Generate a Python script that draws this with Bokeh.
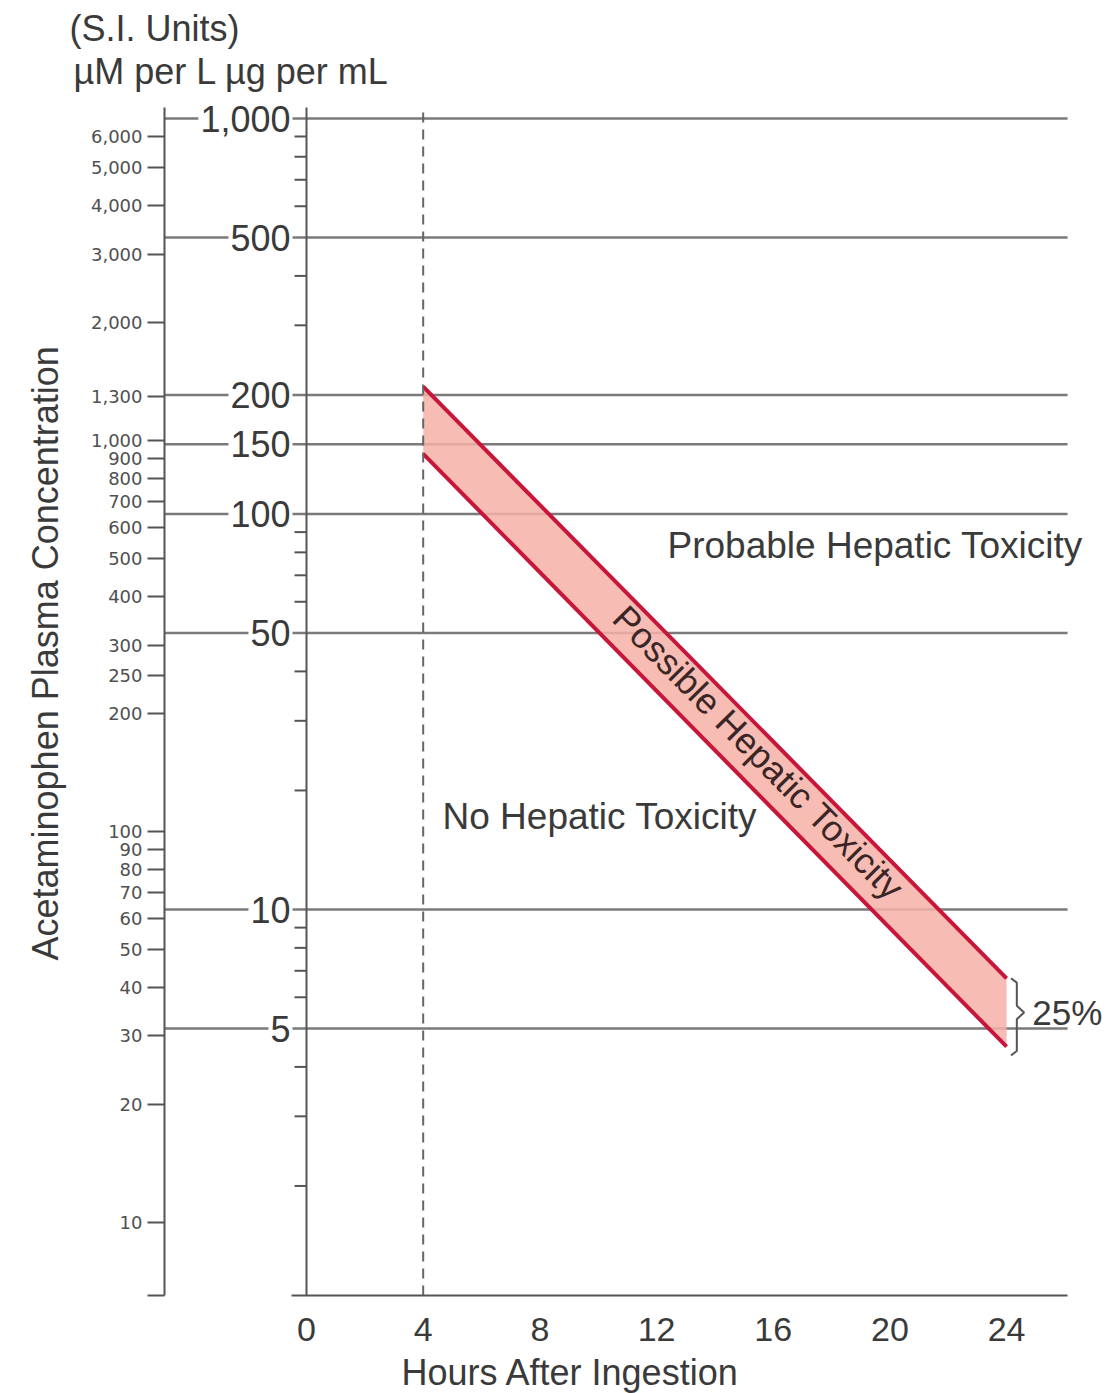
import numpy as np
from bokeh.plotting import figure
from bokeh.models import (Range1d, LogScale, LogAxis, FixedTicker,
                          NumeralTickFormatter, ColumnDataSource, LabelSet, Label, Title)
from bokeh.core.properties import value
from bokeh.embed import file_html
from bokeh.resources import INLINE

# ---------------- data ----------------
hour_ticks = [0, 4, 8, 12, 16, 20, 24]
ug_major = [1000, 500, 200, 150, 100, 50, 10, 5]
ug_major_labels = ["1,000", "500", "200", "150", "100", "50", "10", "5"]
ug_minor = [900, 800, 700, 600, 400, 300, 90, 80, 70, 60, 40, 30, 20,
            9, 8, 7, 6, 4, 3, 2]
si_ticks = [6000, 5000, 4000, 3000, 2000, 1300, 1000, 900, 800, 700, 600,
            500, 400, 300, 250, 200, 100, 90, 80, 70, 60, 50, 40, 30, 20, 10]
band_hours = [4, 24]
band_upper = [210, 6.7]
band_lower = [142, 4.5]
threshold_hour = 4

# ---------------- layout constants ----------------
X_RANGE = (-4.868, 27.39)
LINE_END = 26.09
Y_RANGE = (1.057, 1143.4)
AXIS_TOP = 1066.0
SI_RANGE = (6.5, 7638.0)
SI_BOUNDS = (6.5, 7117.0)
TXT = "#3a3a3a"
GRAY = "#7a7a7a"
AX = "#555555"
FONT = "Liberation Sans"

p = figure(frame_width=941, frame_height=1200, output_backend="svg",
           toolbar_location=None, title_location=None,
           y_axis_type="log", y_axis_location=None,
           x_range=Range1d(*X_RANGE), y_range=Range1d(*Y_RANGE),
           min_border_left=163, min_border_right=0, min_border_top=95,
           min_border_bottom=90, outline_line_color=None,
           background_fill_color="white", border_fill_color="white")
p.grid.visible = False

# x axis
xa = p.xaxis[0]
xa.ticker = FixedTicker(ticks=hour_ticks)
xa.bounds = (-0.5, LINE_END)
xa.major_tick_in = 0
xa.major_tick_out = 0
xa.minor_tick_in = 0
xa.minor_tick_out = 0
xa.axis_line_color = AX
xa.axis_line_width = 2
xa.major_label_text_font = FONT
xa.major_label_text_font_size = "34px"
xa.major_label_text_color = TXT
xa.major_label_standoff = 22

# SI axis (left)
p.extra_y_ranges = {"si": Range1d(*SI_RANGE)}
p.extra_y_scales = {"si": LogScale()}
si_axis = LogAxis(y_range_name="si", bounds=SI_BOUNDS,
                  ticker=FixedTicker(ticks=si_ticks + [SI_RANGE[0]], minor_ticks=[]),
                  formatter=NumeralTickFormatter(format="0,0"),
                  major_label_overrides={SI_RANGE[0]: ""},
                  major_tick_out=17, major_tick_in=0,
                  minor_tick_out=0, minor_tick_in=0,
                  major_label_standoff=5,
                  axis_line_color=AX, axis_line_width=2,
                  major_tick_line_color=AX, major_tick_line_width=2,
                  major_label_text_font="DejaVu Sans",
                  major_label_text_font_size="18px",
                  major_label_text_color="#505050")
p.add_layout(si_axis, "left")


def title(text, side, align, offset, standoff):
    p.add_layout(Title(text=text, align=align, offset=offset, standoff=standoff,
                       text_font=FONT, text_font_size="36px",
                       text_font_style="normal", text_color=TXT), side)


# axis titles and unit headers
title("Acetaminophen Plasma Concentration", "left", "left", 335, 44)
title("Hours After Ingestion", "below", "left", 237, 12)
title("\u00b5M per L \u00b5g per mL", "above", "left", -91, 8)
title("(S.I. Units)", "above", "left", -95, -8)

# horizontal lines at labelled values
n = len(ug_major)
p.segment(x0=[X_RANGE[0]] * n, x1=[LINE_END] * n, y0=ug_major, y1=ug_major,
          line_color=GRAY, line_width=2.5)

# band
p.varea(x=band_hours, y1=band_lower, y2=band_upper, fill_color="#f6b0a6", fill_alpha=0.85)
p.line(band_hours, band_upper, line_color="#c8163a", line_width=4)
p.line(band_hours, band_lower, line_color="#c8163a", line_width=4)

# µg axis at hour 0 and 4-hour dashed line
p.segment(x0=[0], x1=[0], y0=[Y_RANGE[0]], y1=[AXIS_TOP], line_color=AX, line_width=2)
p.segment(x0=[threshold_hour], x1=[threshold_hour], y0=[Y_RANGE[0]], y1=[AXIS_TOP],
          line_color="#666666", line_width=2, line_dash="10 7")
p.ray(x=[0] * len(ug_minor), y=ug_minor, length=12, angle=np.pi,
      length_units="screen", line_color=AX, line_width=2)

src = ColumnDataSource(dict(x=[0] * n, y=ug_major, t=ug_major_labels))
p.add_layout(LabelSet(source=src, x="x", y="y", text="t", x_offset=-16,
                      text_align="right", text_baseline="middle",
                      text_font=value(FONT), text_font_size="36px", text_color=TXT,
                      background_fill_color="white", border_line_color="white",
                      border_line_width=4))

# brace and 25%
up_end, lo_end = band_upper[-1], band_lower[-1]
mid = np.sqrt(up_end * lo_end)
bx = 24.35
p.line([bx - 0.2, bx, bx, bx + 0.25, bx, bx, bx - 0.2],
       [up_end, up_end * 0.975, mid * 1.04, mid, mid / 1.04, lo_end * 0.975, lo_end * 0.95],
       line_color=AX, line_width=2)


def lab(x, y, text, size="37px", align="left", angle=0.0, color=TXT):
    p.add_layout(Label(x=x, y=y, text=text, text_font=FONT, text_font_size=size,
                       text_color=color, text_align=align, text_baseline="middle",
                       angle=angle))


lab(24.88, mid, "25%", size="35px")
lab(12.376, 83.2, "Probable Hepatic Toxicity")
lab(4.662, 17.2, "No Hepatic Toxicity")
lab(15.5, 24.9, "Possible Hepatic Toxicity", size="36px", align="center",
    angle=-0.792, color="#3a2626")

open("out.html", "w").write(file_html(p, INLINE))
